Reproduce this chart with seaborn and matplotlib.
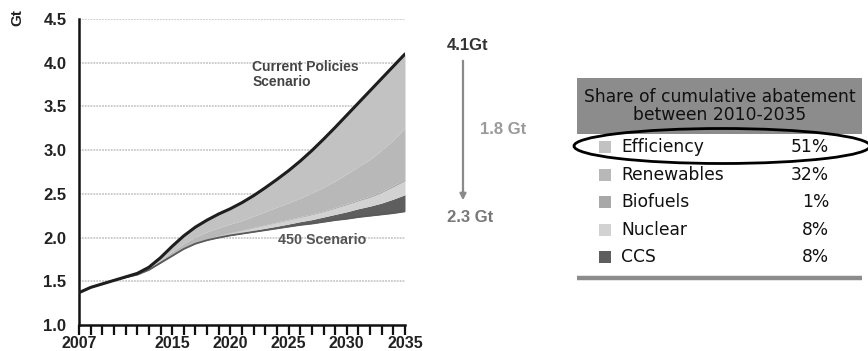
import matplotlib
matplotlib.use("Agg")
import matplotlib.pyplot as plt
from matplotlib.patches import Rectangle, Ellipse
import numpy as np
import pandas as pd
import seaborn as sns

# ---- data -------------------------------------------------------------
years = list(range(2007, 2036))
current_policies = [1.37, 1.43, 1.47, 1.51, 1.55, 1.59, 1.66, 1.77, 1.90, 2.02,
                    2.12, 2.20, 2.27, 2.33, 2.40, 2.48, 2.57, 2.665, 2.765, 2.875,
                    2.995, 3.125, 3.26, 3.40, 3.54, 3.68, 3.82, 3.96, 4.10]
scenario_450 = [1.37, 1.43, 1.47, 1.51, 1.545, 1.575, 1.63, 1.71, 1.79, 1.87,
                1.93, 1.97, 2.00, 2.025, 2.045, 2.065, 2.085, 2.105, 2.125, 2.145,
                2.16, 2.18, 2.20, 2.215, 2.235, 2.25, 2.265, 2.28, 2.30]
# abatement wedges stacked upward from the 450 Scenario line
ccs = [0, 0, 0, 0, 0, 0, 0, 0, 0, 0,
       0, 0.002, 0.004, 0.006, 0.010, 0.015, 0.020, 0.025, 0.030, 0.037,
       0.045, 0.055, 0.065, 0.080, 0.095, 0.110, 0.130, 0.160, 0.190]
nuclear = [0, 0, 0, 0, 0, 0, 0, 0, 0, 0,
           0.005, 0.010, 0.015, 0.020, 0.025, 0.030, 0.035, 0.040, 0.045, 0.050,
           0.055, 0.060, 0.070, 0.080, 0.090, 0.100, 0.120, 0.140, 0.160]
biofuels = [0, 0, 0, 0, 0, 0, 0.001, 0.002, 0.002, 0.003,
            0.003, 0.004, 0.004, 0.005, 0.005, 0.006, 0.007, 0.008, 0.008, 0.009,
            0.010, 0.011, 0.012, 0.013, 0.014, 0.015, 0.016, 0.018, 0.020]
renewables = [0, 0, 0, 0, 0, 0, 0.01, 0.03, 0.05, 0.06,
              0.07, 0.08, 0.09, 0.10, 0.11, 0.13, 0.15, 0.17, 0.19, 0.21,
              0.24, 0.27, 0.30, 0.34, 0.38, 0.42, 0.47, 0.52, 0.58]

y_ticks = [1.0, 1.5, 2.0, 2.5, 3.0, 3.5, 4.0, 4.5]
x_tick_labels = [2007, 2015, 2020, 2025, 2030, 2035]

share_labels = ["Efficiency", "Renewables", "Biofuels", "Nuclear", "CCS"]
share_values = [51, 32, 1, 8, 8]
share_colors = ["#c2c2c2", "#b8b8b8", "#a8a8a8", "#d2d2d2", "#5e5e5e"]

end_current = 4.1
end_450 = 2.3
gap = 1.8

# ---- style ------------------------------------------------------------
sns.set_style("white")
plt.rcParams["font.family"] = ["DejaVu Sans"]
chart_font = ["Liberation Sans", "DejaVu Sans"]

W, H = 868, 351
fig = plt.figure(figsize=(W / 100, H / 100), dpi=100)
ax = fig.add_axes([79 / W, 1 - 325 / H, (405 - 79) / W, (325 - 19) / H])

df = pd.DataFrame({"year": years, "current": current_policies, "s450": scenario_450})
base = np.array(scenario_450)
b_ccs = base + np.array(ccs)
b_nuc = b_ccs + np.array(nuclear)
b_bio = b_nuc + np.array(biofuels)
b_ren = b_bio + np.array(renewables)
top = np.array(current_policies)

ax.fill_between(years, base, b_ccs, color=share_colors[4], lw=0, zorder=2)
ax.fill_between(years, b_ccs, b_nuc, color=share_colors[3], lw=0, zorder=2)
ax.fill_between(years, b_nuc, b_bio, color=share_colors[2], lw=0, zorder=2)
ax.fill_between(years, b_bio, b_ren, color=share_colors[1], lw=0, zorder=2)
ax.fill_between(years, b_ren, top, color=share_colors[0], lw=0, zorder=2)

sns.lineplot(data=df, x="year", y="s450", ax=ax, color="#5a5a5a", lw=1.3, zorder=3)
sns.lineplot(data=df, x="year", y="current", ax=ax, color="#1e1e1e", lw=2.2, zorder=4)

ax.set_xlim(2007, 2035)
ax.set_ylim(1.0, 4.5)
ax.set_yticks(y_ticks)
ax.set_yticklabels([f"{v:.1f}" for v in y_ticks], fontsize=12,
                   fontweight="bold", family=chart_font, color="#222222")
ax.set_xticks(years)
ax.set_xticklabels([str(y) if y in x_tick_labels else "" for y in years],
                   fontsize=11.5, fontweight="bold", family=chart_font,
                   color="#222222")
ax.tick_params(axis="x", bottom=True, direction="out", length=7, width=1.6,
               color="#111111", pad=1)
ax.tick_params(axis="y", left=False, length=0, pad=9)
ax.set_xlabel("")
ax.set_ylabel("")
for yv in y_ticks[1:]:
    ax.axhline(yv, color="#c9c9c9", lw=1.3, ls=(0, (1, 0.6)), zorder=1)
for side in ["top", "right"]:
    ax.spines[side].set_visible(False)
for side in ["left", "bottom"]:
    ax.spines[side].set_color("#111111")
    ax.spines[side].set_linewidth(1.8)

fig.text(17 / W, 1 - 18 / H, "Gt", rotation=90, ha="center", va="center",
         fontsize=11, fontweight="bold", family=chart_font, color="#222222")

ax.text(2021.9, 4.03, "Current Policies\nScenario", ha="left", va="top",
        fontsize=10, fontweight="bold", family=chart_font, color="#444444",
        linespacing=1.1, zorder=5)
ax.text(2024.1, 1.97, "450 Scenario", ha="left", va="center",
        fontsize=10.3, fontweight="bold", family=chart_font, color="#555555",
        zorder=5)

# ---- overlay for annotations and the share table (pixel layout) --------
ov = fig.add_axes([0, 0, 1, 1])
ov.set_xlim(0, W)
ov.set_ylim(H, 0)
ov.axis("off")

ov.text(447, 46, f"{end_current}Gt", ha="left", va="center", fontsize=12,
        fontweight="bold", family=chart_font, color="#333333")
ov.annotate("", xy=(463, 203), xytext=(463, 58),
            arrowprops=dict(arrowstyle="-|>", color="#8a8a8a", lw=1.6,
                            mutation_scale=9))
ov.text(480, 129, f"{gap} Gt", ha="left", va="center", fontsize=12,
        fontweight="bold", family=chart_font, color="#9a9a9a")
ov.text(447, 218, f"{end_450} Gt", ha="left", va="center", fontsize=12,
        fontweight="bold", family=chart_font, color="#777777")

tx0, tx1 = 577, 862
ov.add_patch(Rectangle((tx0, 78), tx1 - tx0, 56, color="#8c8c8c", lw=0))
ov.text((tx0 + tx1) / 2, 106, "Share of cumulative abatement\nbetween 2010-2035",
        ha="center", va="center", fontsize=12.3, color="#111111",
        linespacing=1.05)

row_y = [147, 175, 202, 230, 257]
for yy, lab, val, col in zip(row_y, share_labels, share_values, share_colors):
    ov.add_patch(Rectangle((599, yy - 6), 12, 12, color=col, lw=0))
    ov.text(621, yy, lab, ha="left", va="center", fontsize=12.3, color="#111111")
    ov.text(829, yy, f"{val}%", ha="right", va="center", fontsize=12.3,
            color="#111111")

ov.plot([tx0, tx1], [278, 278], color="#8c8c8c", lw=3.2, solid_capstyle="butt")
ov.add_patch(Ellipse((722, 146), 296, 35, fill=False, ec="#000000", lw=2.0))

fig.savefig("out.png", dpi=100)
